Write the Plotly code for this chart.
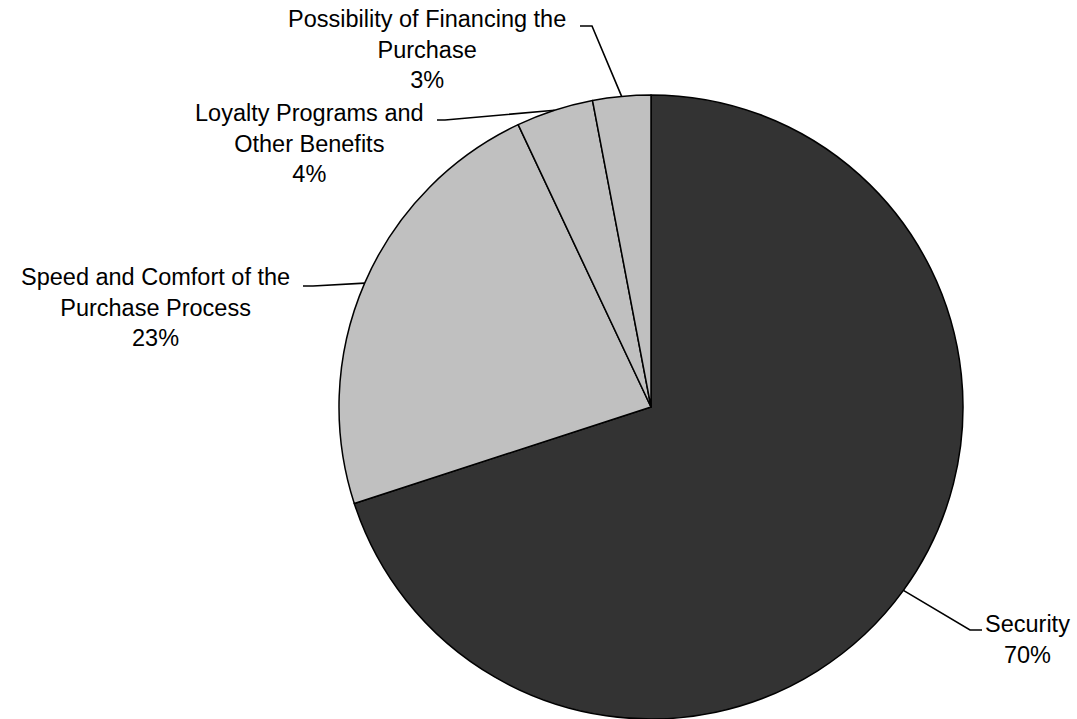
import math
import plotly.graph_objects as go

# ---- data ----
labels = ["Security", "Speed and Comfort of the Purchase Process",
          "Loyalty Programs and Other Benefits", "Possibility of Financing the Purchase"]
values = [70, 23, 4, 3]
label_text = ["Security<br>70%",
              "Speed and Comfort of the<br>Purchase Process<br>23%",
              "Loyalty Programs and<br>Other Benefits<br>4%",
              "Possibility of Financing the<br>Purchase<br>3%"]
colors = ["#333333", "#c0c0c0", "#c0c0c0", "#c0c0c0"]

# ---- layout (pixels) ----
W, H = 1077, 719
CX, CY, R = 651, 407, 312
# text center x, text center y, elbow x, elbow y, horizontal end x
label_layout = [
    (1027, 639, 970, 630, 982),
    (155, 307, 313, 286, 303),
    (309, 143, 445, 120, 437),
    (427, 49, 592, 26, 580),
]

def px(x):
    return x / W

def py(y):
    return 1 - y / H

fig = go.Figure(go.Pie(
    labels=labels, values=values, sort=False, direction="clockwise", rotation=0,
    marker=dict(colors=colors, line=dict(color="black", width=1.5)),
    textinfo="none", hoverinfo="label+percent", showlegend=False,
    domain=dict(x=[px(CX - R), px(CX + R)], y=[py(CY + R), py(CY - R)]),
))

total = sum(values)
cum = 0
shapes, annotations = [], []
for v, txt, (tx, ty, ex, ey, hx) in zip(values, label_text, label_layout):
    th = 2 * math.pi * (cum + v / 2) / total
    cum += v
    edge_x = CX + R * math.sin(th)
    edge_y = CY - R * math.cos(th)
    path = f"M {px(edge_x)},{py(edge_y)} L {px(ex)},{py(ey)} L {px(hx)},{py(ey)}"
    shapes.append(dict(type="path", xref="paper", yref="paper", path=path,
                       line=dict(color="black", width=1.6)))
    annotations.append(dict(x=px(tx), y=py(ty), xref="paper", yref="paper", text=txt,
                            showarrow=False, xanchor="center", yanchor="middle", align="center",
                            font=dict(family="Liberation Sans, Arial", size=23.5, color="black")))

fig.update_layout(width=W, height=H, margin=dict(l=0, r=0, t=0, b=0),
                  paper_bgcolor="white", plot_bgcolor="white",
                  shapes=shapes, annotations=annotations)
fig.write_html("out.html")
